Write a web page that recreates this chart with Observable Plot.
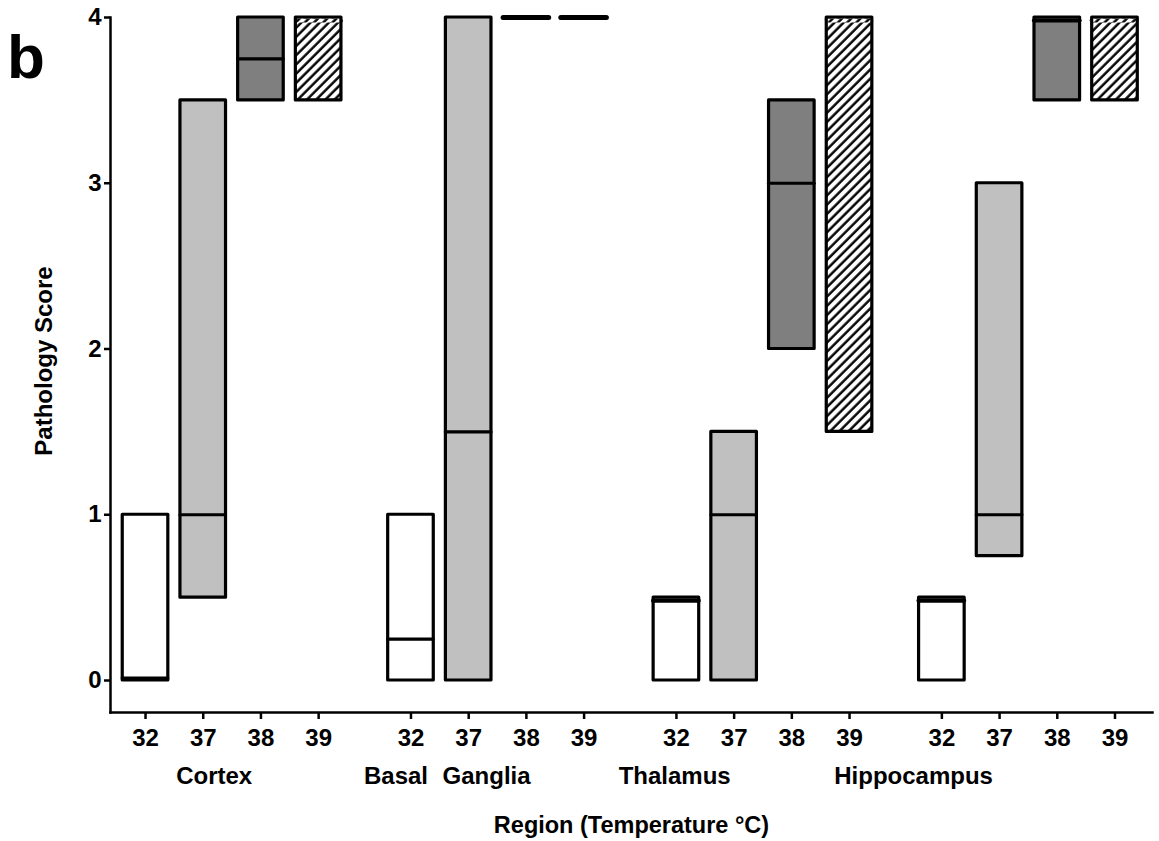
<!DOCTYPE html>
<html>
<head>
<meta charset="utf-8">
<script src="https://cdn.jsdelivr.net/npm/d3@7"></script>
<script src="https://cdn.jsdelivr.net/npm/@observablehq/plot@0.6"></script>
<style>
  html, body { margin: 0; padding: 0; background: #fff; }
  #chart { width: 1159px; height: 841px; }
</style>
</head>
<body>
<div id="chart"></div>
<script>
// ---- data ----
const regions = ["Cortex", "Basal Ganglia", "Thalamus", "Hippocampus"];
const temperatures = ["32", "37", "38", "39"];
// per region, per temperature (32, 37, 38, 39)
const lowScores    = [[0, 0.5, 3.5, 3.5], [0, 0, 4, 4], [0, 0, 2, 1.5], [0, 0.75, 3.5, 3.5]];
const highScores   = [[1, 3.5, 4, 4],     [1, 4, 4, 4], [0.5, 1.5, 3.5, 4], [0.5, 3, 4, 4]];
const medianScores = [[0, 1, 3.75, 4],    [0.25, 1.5, 4, 4], [0.5, 1, 3, 4], [0.5, 1, 4, 4]];
const yTicks = [0, 1, 2, 3, 4];

// ---- layout helpers (not data) ----
const GROUP_STEP = 4.6;
const HALF = 0.395;
const regionLabelParts = [
  [{text: "Cortex", off: 1.19}],
  [{text: "Basal", off: -0.26}, {text: "Ganglia", off: 1.31}],
  [{text: "Thalamus", off: -0.03}],
  [{text: "Hippocampus", off: -0.49}]
];
const fills = {"32": "#ffffff", "37": "#c0c0c0", "38": "#7f7f7f", "39": "url(#hatch)"};

const rows = regions.flatMap((r, g) => temperatures.map((t, i) => ({
  region: r, temp: t, pos: g * GROUP_STEP + i,
  low: lowScores[g][i], high: highScores[g][i], median: medianScores[g][i]
})));
const tickLabel = new Map(rows.map(d => [d.pos, d.temp]));
const labelRows = regionLabelParts.flatMap((parts, g) => parts.map(p => ({text: p.text, pos: g * GROUP_STEP + p.off})));

const FONT = "'Liberation Sans', Arial, Helvetica, sans-serif";
const SW = 3.2;

const boxX1 = d => d.pos - HALF, boxX2 = d => d.pos + HALF;
const medStroke = d => (d.temp === "39" && d.low !== d.high) ? "url(#hatch)" : "black";

const medTop = rows.filter(d => d.median === d.high);
const medBottom = rows.filter(d => d.median === d.low && d.median !== d.high);
const medMid = rows.filter(d => d.median !== d.high && d.median !== d.low);

const svg = Plot.plot({
  width: 1159,
  height: 841,
  marginLeft: 110,
  marginRight: 7,
  marginTop: 17,
  marginBottom: 129,
  style: {fontFamily: FONT, fontWeight: "bold", color: "black", background: "white"},
  x: {domain: [-0.607, 17.45]},
  y: {domain: [-0.193, 4]},
  color: {type: "identity"},
  marks: [
    // box fills
    ...temperatures.map(t => Plot.rect(rows.filter(d => d.temp === t), {
      x1: boxX1, x2: boxX2, y1: "low", y2: "high", fill: fills[t]
    })),
    // medians
    Plot.ruleY(medMid, {y: "median", x1: boxX1, x2: boxX2, stroke: medStroke, strokeWidth: SW, strokeLinecap: "round"}),
    Plot.ruleY(medBottom, {y: "median", x1: boxX1, x2: boxX2, stroke: medStroke, strokeWidth: SW, strokeLinecap: "round", dy: -2.5}),
    Plot.ruleY(medTop.filter(d => d.low !== d.high), {y: "median", x1: boxX1, x2: boxX2, stroke: medStroke, strokeWidth: SW + 1, strokeLinecap: "round", dy: 3}),
    Plot.ruleY(medTop.filter(d => d.low === d.high), {y: "median", x1: boxX1, x2: boxX2, stroke: "black", strokeWidth: 5, strokeLinecap: "round"}),
    // box outlines
    Plot.rect(rows.filter(d => d.low !== d.high), {
      x1: boxX1, x2: boxX2, y1: "low", y2: "high", fill: "none", stroke: "black", strokeWidth: SW, strokeLinejoin: "round"
    }),
    // axes
    Plot.frame({anchor: "left", stroke: "black", strokeWidth: 2.5}),
    Plot.frame({anchor: "bottom", stroke: "black", strokeWidth: 2.5}),
    Plot.axisY(yTicks, {tickSize: 6, tickPadding: 3, fontSize: 24, strokeWidth: 2.5, label: null,
      tickFormat: d3.format("d")}),
    Plot.axisX(rows.map(d => d.pos), {tickSize: 7, tickPadding: 9, fontSize: 24, strokeWidth: 2.5,
      tickFormat: p => tickLabel.get(p), label: null}),
    // region labels
    Plot.text(labelRows, {x: "pos", text: "text", frameAnchor: "bottom", dy: 64, lineAnchor: "middle",
      fontSize: 24, fontWeight: "bold"}),
    // axis titles
    Plot.text(["Region (Temperature °C)"], {text: d => d, frameAnchor: "bottom", dy: 113, lineAnchor: "middle",
      fontSize: 23.5, fontWeight: "bold"}),
    Plot.text(["Pathology Score"], {text: d => d, frameAnchor: "left", textAnchor: "middle", rotate: -90, dx: -66,
      dy: -4, lineAnchor: "middle", fontSize: 24, fontWeight: "bold"})
  ]
});

// hatch pattern
const defs = d3.select(svg).insert("defs", ":first-child");
const pat = defs.append("pattern")
  .attr("id", "hatch")
  .attr("patternUnits", "userSpaceOnUse")
  .attr("width", 6.5).attr("height", 6.5)
  .attr("patternTransform", "rotate(45)");
pat.append("rect").attr("width", 6.5).attr("height", 6.5).attr("fill", "white");
pat.append("line").attr("x1", 1.5).attr("y1", 0).attr("x2", 1.5).attr("y2", 6.5)
  .attr("stroke", "black").attr("stroke-width", 2.4);

// panel letter
d3.select(svg).append("text")
  .attr("x", 7).attr("y", 78)
  .attr("text-anchor", "start")
  .attr("font-size", 62).attr("font-weight", "bold")
  .attr("font-family", FONT).attr("fill", "black")
  .text("b");

document.getElementById("chart").appendChild(svg);
</script>
</body>
</html>
